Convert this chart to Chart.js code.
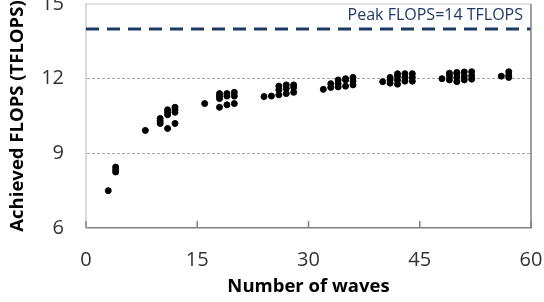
<!DOCTYPE html>
<html>
<head>
<meta charset="utf-8">
<script src="https://cdn.jsdelivr.net/npm/chart.js@4/dist/chart.umd.min.js"></script>
<style>
  html, body { margin: 0; padding: 0; background: #fff; }
  #wrap { width: 544px; height: 302px; }
</style>
</head>
<body>
<div id="wrap"><canvas id="flopsChart" width="544" height="302"></canvas></div>
<script>
// measured runs: number of waves vs achieved TFLOPS
const waves = [
  3,
  4, 4, 4,
  8,
  10, 10, 10,
  11, 11, 11, 11,
  12, 12, 12, 12,
  16,
  18, 18, 18, 18,
  19, 19, 19,
  20, 20, 20,
  24, 25,
  26, 26, 26,
  27, 27, 27,
  28, 28, 28,
  32,
  33, 33,
  34, 34, 34,
  35, 35, 35,
  36, 36, 36,
  40,
  41, 41, 41,
  42, 42, 42, 42,
  43, 43, 43,
  44, 44, 44,
  48,
  49, 49, 49,
  50, 50, 50, 50,
  51, 51, 51,
  52, 52, 52,
  56,
  57, 57, 57
];
const tflops = [
  7.5,
  8.25, 8.35, 8.45,
  9.92,
  10.2, 10.3, 10.4,
  10.0, 10.55, 10.65, 10.75,
  10.2, 10.65, 10.75, 10.85,
  11.0,
  10.85, 11.2, 11.3, 11.4,
  10.95, 11.3, 11.4,
  11.0, 11.3, 11.45,
  11.28, 11.3,
  11.35, 11.55, 11.7,
  11.4, 11.6, 11.75,
  11.45, 11.65, 11.75,
  11.57,
  11.65, 11.8,
  11.67, 11.8, 11.95,
  11.7, 11.95, 12.0,
  11.75, 11.9, 12.05,
  11.88,
  11.82, 11.95, 12.05,
  11.78, 11.95, 12.1, 12.2,
  11.9, 12.05, 12.2,
  11.9, 12.05, 12.2,
  12.0,
  11.95, 12.1, 12.22,
  11.88, 12.05, 12.2, 12.25,
  11.95, 12.1, 12.27,
  11.98, 12.12, 12.28,
  12.1,
  12.05, 12.15, 12.28
];
const peakFlops = 14;
const peakLabel = 'Peak FLOPS=14 TFLOPS';
const xRange = [0, 60];

const FONT = "'Open Sans', 'DejaVu Sans', sans-serif";

// frame: light top border, darker right border, inside tick marks on x
const framePlugin = {
  id: 'frame',
  afterDraw(chart) {
    const { ctx, chartArea: a, scales } = chart;
    ctx.save();
    ctx.lineWidth = 1.5;
    ctx.strokeStyle = '#d9d9d9';
    ctx.beginPath();
    ctx.moveTo(a.left, a.top);
    ctx.lineTo(a.right, a.top);
    ctx.stroke();
    ctx.strokeStyle = '#808080';
    ctx.beginPath();
    ctx.moveTo(a.right, a.top);
    ctx.lineTo(a.right, a.bottom);
    ctx.stroke();
    scales.x.ticks.forEach(t => {
      const px = scales.x.getPixelForValue(t.value);
      ctx.beginPath();
      ctx.moveTo(px, a.bottom);
      ctx.lineTo(px, a.bottom - 7);
      ctx.stroke();
    });
    // peak label
    ctx.fillStyle = '#1f3864';
    ctx.font = "16px " + FONT;
    ctx.textAlign = 'right';
    ctx.textBaseline = 'middle';
    ctx.fillText(peakLabel, scales.x.getPixelForValue(xRange[1]) - 8,
      scales.y.getPixelForValue(peakFlops) - 13);
    ctx.restore();
  }
};

new Chart(document.getElementById('flopsChart'), {
  type: 'scatter',
  data: {
    datasets: [
      {
        label: 'Achieved',
        data: waves.map((w, i) => ({ x: w, y: tflops[i] })),
        backgroundColor: '#000',
        borderColor: '#000',
        pointRadius: 3,
        pointHoverRadius: 3
      },
      {
        label: 'Peak',
        type: 'line',
        data: xRange.map(x => ({ x: x, y: peakFlops })),
        borderColor: '#1f3a60',
        borderWidth: 3,
        borderDash: [13, 8],
        pointRadius: 0,
        fill: false
      }
    ]
  },
  options: {
    responsive: false,
    animation: false,
    layout: { padding: { top: 4, right: 13, left: 0, bottom: 0 } },
    plugins: { legend: { display: false }, tooltip: { enabled: false } },
    scales: {
      x: {
        type: 'linear',
        min: 0, max: 60,
        afterFit(s) { s.height = 74; s.paddingLeft = 0; s.paddingRight = 0; },
        ticks: { stepSize: 15, color: '#333', padding: 20, font: { family: FONT, size: 20 } },
        grid: { display: false, drawTicks: false },
        border: { display: true, color: '#808080', width: 1.5 },
        title: {
          display: true, text: 'Number of waves', color: '#000',
          font: { family: FONT, size: 18.5, weight: 'bold' },
          padding: { top: 0, bottom: 4 }
        }
      },
      y: {
        min: 6, max: 15,
        afterFit(s) { s.width = 86; s.paddingTop = 0; s.paddingBottom = 0; },
        ticks: { stepSize: 3, color: '#333', padding: 22, font: { family: FONT, size: 20 } },
        grid: {
          drawTicks: false,
          color: c => (c.tick.value === 9 || c.tick.value === 12) ? '#a6a6a6' : 'rgba(0,0,0,0)',
          lineWidth: 1
        },
        border: { display: true, color: '#d9d9d9', width: 2, dash: [3, 2] },
        title: {
          display: true, text: 'Achieved FLOPS (TFLOPS)', color: '#000',
          font: { family: FONT, size: 18.5, weight: 'bold' },
          padding: { top: 7, bottom: 0 }
        }
      }
    }
  },
  plugins: [framePlugin]
});
</script>
</body>
</html>
